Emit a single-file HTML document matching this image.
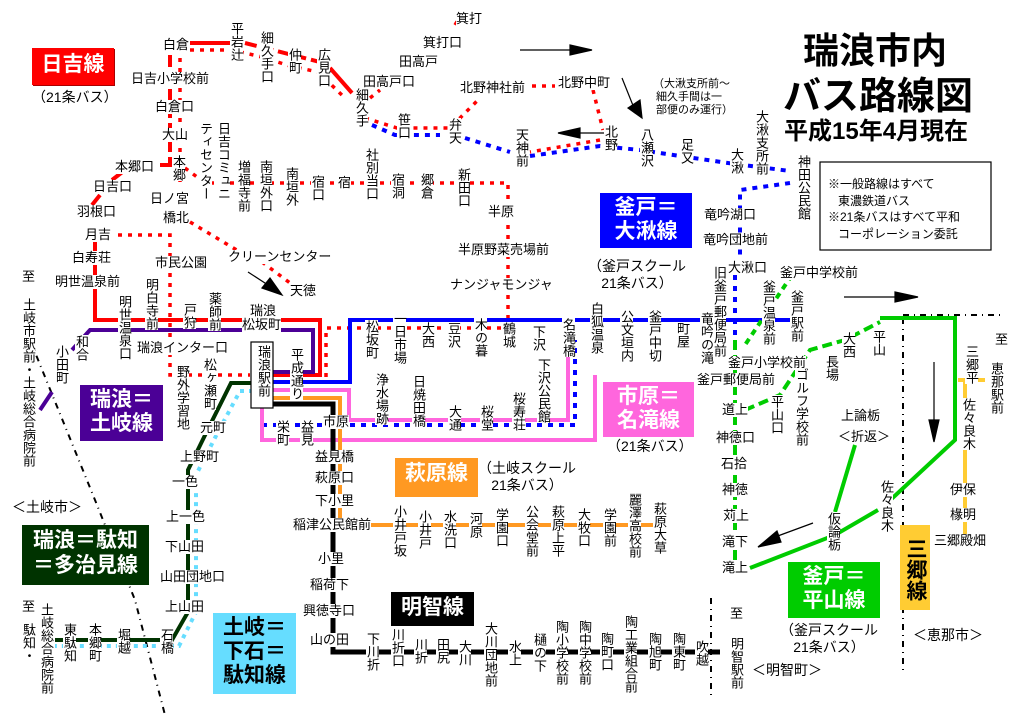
<!DOCTYPE html>
<html><head><meta charset="utf-8">
<style>
body{margin:0;background:#fff;}
#c{position:relative;width:1024px;height:723px;overflow:hidden;background:#fff;font-family:"Liberation Sans","Noto Sans CJK JP",sans-serif;color:#000;}
svg{position:absolute;left:0;top:0;}
.t{position:absolute;font-size:13px;line-height:14px;white-space:nowrap;background:#fff;}
.v{writing-mode:vertical-rl;text-orientation:upright;line-height:13px;}
.box{position:absolute;color:#fff;font-weight:bold;font-size:21px;line-height:25px;text-align:center;box-sizing:border-box;padding-top:3px;}
</style></head><body><div id="c">
<svg width="1024" height="723" viewBox="0 0 1024 723" fill="none">
<g stroke="#000" stroke-width="2" stroke-dasharray="6,5,1,5">
<path d="M30,340 L95,500 L135,600 L165,715"/>
<path d="M903,318 V672 M903,315 H1005 M711,598 V700"/>
</g>
<g stroke="#f00" stroke-width="4">
<path d="M190,43 H230"/>
<path d="M245,43 L320,62" stroke-dasharray="12,5"/>
<path d="M330,68 L352,93"/>
<path d="M170,55 V165" stroke-dasharray="12,5"/>
<path d="M160,165 H172 M125,170 L112,180 M100,195 L92,205"/>
<path d="M95,235 V320 H320 V375 H273"/>
</g>
<g stroke="#f00" stroke-width="3.5" stroke-dasharray="4,6">
<path d="M190,50 H232 L262,57 L290,66 L318,72 L345,98"/>
<path d="M180,58 V182"/>
<path d="M185,168 L205,183 H508 V328 H326 V378"/>
<path d="M118,235 H170 V375 H250"/>
<path d="M190,222 L240,252 M262,262 L290,283"/>
<path d="M365,118 L397,128 H450 L478,100 M532,86 H555 M593,90 L603,130 M600,140 L530,152 M370,98 L380,90 M455,25 L458,20"/>
</g>
<g stroke="#00f" stroke-width="4" stroke-dasharray="5,6">
<path d="M372,125 L395,135 H440 M465,138 L510,152"/>
<path d="M530,156 L600,146 L640,150 L680,156 L735,164 L790,171"/>
<path d="M790,183 L740,190 V258 M735,275 V335"/>
<path d="M262,425 H575 V340"/>
</g>
<path d="M273,382 H350 V320 H795" stroke="#00f" stroke-width="4"/>
<path d="M40,410 L52,392 M72,350 L90,330 H313 V372 H273" stroke="#4b0096" stroke-width="4"/>
<path d="M262,392 V440 H595 V375 M273,390 H349 V420 H568 V345" stroke="#ff66dd" stroke-width="4"/>
<path d="M273,398 H340 V525 H665" stroke="#ff9922" stroke-width="4"/>
<path d="M273,404 H333 V652 H720" stroke="#000" stroke-width="5"/>
<path d="M253,383 H231 L210,425 L188,470 V612 L172,640 H55" stroke="#003300" stroke-width="4"/>
<path d="M253,391 H240 L218,432 L196,475 V612 L179,646 H55" stroke="#66ddff" stroke-width="4" stroke-dasharray="4,5"/>
<g stroke="#00cc00" stroke-width="4">
<path d="M735,340 V570" stroke-dasharray="10,5"/>
<path d="M792,275 L745,345" stroke-dasharray="6,5"/>
<path d="M745,410 L780,395 L810,350 L845,340 L880,322" stroke-dasharray="10,5"/>
<path d="M880,318 H955 V440 L885,505"/>
<path d="M750,568 L835,535 L878,510 M835,512 L855,445"/>
</g>
<path d="M965,380 V540 M958,380 H985" stroke="#ffcc33" stroke-width="4"/>
<g stroke="#000" stroke-width="1.2" fill="#000">
<path d="M520,50 H570"/><polygon points="570,45 592,50 570,55"/>
<path d="M580,133 H610"/><polygon points="580,128 558,133 580,138"/>
<path d="M622,78 L634,108"/><polygon points="628,108 642,118 640,100"/>
<path d="M844,297 H895"/><polygon points="895,292 918,297 895,302"/>
<path d="M934,362 V420"/><polygon points="929,420 934,442 939,420"/>
<path d="M813,523 L775,537"/><polygon points="777,531 758,547 781,542"/>
<path d="M248,272 L268,285"/><polygon points="262,288 282,295 270,278"/>
</g>
<rect x="251" y="342" width="22" height="66" fill="#fff" stroke="#000" stroke-width="1.2"/>
<rect x="820" y="162" width="171" height="88" fill="#fff" stroke="#000" stroke-width="1.2"/>
</svg>

<div class="box" style="left:32px;top:48px;width:82px;height:37px;background:#f00;border:1px solid #f00;box-shadow:1px 1px 0 #a00;">日吉線</div>
<div class="box" style="left:600px;top:193px;width:92px;height:55px;background:#00f;line-height:24px;">釜戸＝<br>大湫線</div>
<div class="box" style="left:80px;top:385px;width:83px;height:56px;background:#4b0096;line-height:24px;">瑞浪＝<br>土岐線</div>
<div class="box" style="left:603px;top:382px;width:91px;height:55px;background:#ff66dd;line-height:24px;">市原＝<br>名滝線</div>
<div class="box" style="left:395px;top:458px;width:83px;height:39px;background:#ff9922;">萩原線</div>
<div class="box" style="left:22px;top:525px;width:127px;height:60px;background:#003300;line-height:25px;">瑞浪＝駄知<br>＝多治見線</div>
<div class="box" style="left:391px;top:592px;width:83px;height:34px;background:#000;">明智線</div>
<div class="box" style="left:213px;top:613px;width:83px;height:81px;background:#66ddff;color:#000;line-height:24px;">土岐＝<br>下石＝<br>駄知線</div>
<div class="box" style="left:788px;top:562px;width:92px;height:56px;background:#00cc00;line-height:24px;">釜戸＝<br>平山線</div>
<div class="box" style="left:900px;top:525px;width:30px;height:85px;background:#ffcc33;color:#000;writing-mode:vertical-rl;text-orientation:upright;padding:3px 0 0 0;line-height:30px;">三郷線</div>

<div class="t" style="left:803px;top:30px;font-size:36px;line-height:42px;font-weight:bold;background:none;">瑞浪市内</div>
<div class="t" style="left:783px;top:75px;font-size:38px;line-height:44px;font-weight:bold;background:none;">バス路線図</div>
<div class="t" style="left:784px;top:118px;font-size:24px;line-height:28px;font-weight:bold;background:none;">平成15年4月現在</div>
<div class="t" style="left:828px;top:176px;font-size:12px;line-height:16.5px;background:none;">※一般路線はすべて<br>&nbsp;&nbsp;&nbsp;東濃鉄道バス<br>※21条バスはすべて平和<br>&nbsp;&nbsp;&nbsp;コーポレーション委託</div>
<div class="t" style="left:653px;top:78px;font-size:11px;line-height:13px;background:none;">（大湫支所前～<br>&nbsp;細久手間は一<br>&nbsp;部便のみ運行）</div>

<div class="t" style="left:32px;top:90px;font-size:14px;">（21条バス）</div>
<div class="t" style="left:588px;top:258px;font-size:14px;line-height:17px;text-align:center;">（釜戸スクール<br>21条バス）</div>
<div class="t" style="left:607px;top:439px;font-size:14px;">（21条バス）</div>
<div class="t" style="left:478px;top:460px;font-size:14px;line-height:17px;text-align:center;">（土岐スクール<br>21条バス）</div>
<div class="t" style="left:780px;top:622px;font-size:14px;line-height:17px;text-align:center;">（釜戸スクール<br>21条バス）</div>
<div class="t" style="left:12px;top:500px;font-size:14px;">＜土岐市＞</div>
<div class="t" style="left:752px;top:663px;font-size:14px;">＜明智町＞</div>
<div class="t" style="left:913px;top:628px;font-size:14px;">＜恵那市＞</div>

<div class="t" style="left:163px;top:38px;">白倉</div>
<div class="t" style="left:456px;top:12px;">箕打</div>
<div class="t" style="left:423px;top:36px;">箕打口</div>
<div class="t" style="left:399px;top:55px;">田高戸</div>
<div class="t" style="left:363px;top:75px;">田高戸口</div>
<div class="t" style="left:460px;top:81px;">北野神社前</div>
<div class="t" style="left:558px;top:76px;">北野中町</div>
<div class="t" style="left:131px;top:72px;">日吉小学校前</div>
<div class="t" style="left:155px;top:100px;">白倉口</div>
<div class="t" style="left:162px;top:128px;">大山</div>
<div class="t" style="left:115px;top:160px;">本郷口</div>
<div class="t" style="left:93px;top:180px;">日吉口</div>
<div class="t" style="left:77px;top:205px;">羽根口</div>
<div class="t" style="left:150px;top:192px;">日ノ宮</div>
<div class="t" style="left:163px;top:211px;">橋北</div>
<div class="t" style="left:338px;top:176px;">宿</div>
<div class="t" style="left:488px;top:205px;">半原</div>
<div class="t" style="left:85px;top:228px;">月吉</div>
<div class="t" style="left:72px;top:251px;">白寿荘</div>
<div class="t" style="left:155px;top:256px;">市民公園</div>
<div class="t" style="left:228px;top:250px;">クリーンセンター</div>
<div class="t" style="left:290px;top:284px;">天徳</div>
<div class="t" style="left:458px;top:243px;">半原野菜売場前</div>
<div class="t" style="left:450px;top:278px;">ナンジャモンジャ</div>
<div class="t" style="left:55px;top:275px;">明世温泉前</div>
<div class="t" style="left:250px;top:304px;">瑞浪</div>
<div class="t" style="left:242px;top:318px;">松坂町</div>
<div class="t" style="left:137px;top:341px;">瑞浪インター口</div>
<div class="t" style="left:704px;top:208px;">竜吟湖口</div>
<div class="t" style="left:703px;top:233px;">竜吟団地前</div>
<div class="t" style="left:728px;top:261px;">大湫口</div>
<div class="t" style="left:780px;top:266px;">釜戸中学校前</div>
<div class="t" style="left:728px;top:356px;">釜戸小学校前</div>
<div class="t" style="left:697px;top:373px;">釜戸郵便局前</div>
<div class="t" style="left:200px;top:421px;">元町</div>
<div class="t" style="left:180px;top:450px;">上野町</div>
<div class="t" style="left:172px;top:475px;">一色</div>
<div class="t" style="left:166px;top:510px;">上一色</div>
<div class="t" style="left:165px;top:540px;">下山田</div>
<div class="t" style="left:160px;top:570px;">山田団地口</div>
<div class="t" style="left:165px;top:600px;">上山田</div>
<div class="t" style="left:323px;top:415px;">市原</div>
<div class="t" style="left:315px;top:450px;">益見橋</div>
<div class="t" style="left:315px;top:471px;">萩原口</div>
<div class="t" style="left:315px;top:494px;">下小里</div>
<div class="t" style="left:293px;top:518px;">稲津公民館前</div>
<div class="t" style="left:318px;top:552px;">小里</div>
<div class="t" style="left:310px;top:578px;">稲荷下</div>
<div class="t" style="left:303px;top:604px;">興徳寺口</div>
<div class="t" style="left:310px;top:633px;">山の田</div>
<div class="t" style="left:722px;top:403px;">道上</div>
<div class="t" style="left:716px;top:431px;">神徳口</div>
<div class="t" style="left:721px;top:457px;">石拾</div>
<div class="t" style="left:722px;top:483px;">神徳</div>
<div class="t" style="left:723px;top:509px;">苅上</div>
<div class="t" style="left:722px;top:535px;">滝下</div>
<div class="t" style="left:722px;top:561px;">滝上</div>
<div class="t" style="left:841px;top:409px;">上論栃</div>
<div class="t" style="left:838px;top:430px;">＜折返＞</div>
<div class="t" style="left:950px;top:483px;">伊保</div>
<div class="t" style="left:950px;top:508px;">椽明</div>
<div class="t" style="left:934px;top:534px;">三郷殿畑</div>
<div class="t" style="left:22px;top:270px;">至</div>
<div class="t" style="left:22px;top:600px;">至</div>
<div class="t" style="left:730px;top:607px;">至</div>
<div class="t" style="left:995px;top:333px;">至</div>

<div class="t v" style="left:230px;top:22px;">平岩辻</div>
<div class="t v" style="left:260px;top:31px;">細久手口</div>
<div class="t v" style="left:288px;top:48px;">仲町</div>
<div class="t v" style="left:317px;top:48px;">広見口</div>
<div class="t v" style="left:355px;top:88px;">細久手</div>
<div class="t v" style="left:397px;top:113px;">笹口</div>
<div class="t v" style="left:448px;top:118px;">弁天</div>
<div class="t v" style="left:515px;top:128px;">天神前</div>
<div class="t v" style="left:604px;top:125px;">北野</div>
<div class="t v" style="left:640px;top:128px;">八瀬沢</div>
<div class="t v" style="left:680px;top:138px;">足又</div>
<div class="t v" style="left:730px;top:148px;">大湫</div>
<div class="t v" style="left:755px;top:110px;">大湫支所前</div>
<div class="t v" style="left:797px;top:155px;">神田公民館</div>
<div class="t v" style="left:199px;top:122px;">ティセンター</div>
<div class="t v" style="left:217px;top:122px;">日吉コミュニ</div>
<div class="t v" style="left:172px;top:155px;">本郷</div>
<div class="t v" style="left:237px;top:160px;">増福寺前</div>
<div class="t v" style="left:259px;top:160px;">南垣外口</div>
<div class="t v" style="left:285px;top:167px;">南垣外</div>
<div class="t v" style="left:311px;top:175px;">宿口</div>
<div class="t v" style="left:365px;top:148px;">社別当口</div>
<div class="t v" style="left:391px;top:173px;">宿洞</div>
<div class="t v" style="left:420px;top:173px;">郷倉</div>
<div class="t v" style="left:457px;top:168px;">新田口</div>
<div class="t v" style="left:145px;top:278px;">明白寺前</div>
<div class="t v" style="left:118px;top:295px;">明世温泉口</div>
<div class="t v" style="left:183px;top:303px;">戸狩</div>
<div class="t v" style="left:208px;top:292px;">薬師前</div>
<div class="t v" style="left:75px;top:335px;">和合</div>
<div class="t v" style="left:55px;top:345px;">小田町</div>
<div class="t v" style="left:22px;top:298px;">土岐市駅前・土岐総合病院前</div>
<div class="t v" style="left:365px;top:320px;">松坂町</div>
<div class="t v" style="left:393px;top:312px;">一日市場</div>
<div class="t v" style="left:421px;top:322px;">大西</div>
<div class="t v" style="left:447px;top:322px;">豆沢</div>
<div class="t v" style="left:474px;top:318px;">木の暮</div>
<div class="t v" style="left:502px;top:322px;">鶴城</div>
<div class="t v" style="left:532px;top:325px;">下沢</div>
<div class="t v" style="left:562px;top:318px;">名滝橋</div>
<div class="t v" style="left:590px;top:302px;">白狐温泉</div>
<div class="t v" style="left:620px;top:310px;">公文垣内</div>
<div class="t v" style="left:648px;top:310px;">釜戸中切</div>
<div class="t v" style="left:676px;top:322px;">町屋</div>
<div class="t v" style="left:700px;top:312px;">竜吟の滝</div>
<div class="t v" style="left:713px;top:266px;">旧釜戸郵便局前</div>
<div class="t v" style="left:762px;top:280px;">釜戸温泉前</div>
<div class="t v" style="left:790px;top:290px;">釜戸駅前</div>
<div class="t v" style="left:825px;top:355px;">長場</div>
<div class="t v" style="left:842px;top:332px;">大西</div>
<div class="t v" style="left:872px;top:330px;">平山</div>
<div class="t v" style="left:990px;top:362px;">恵那駅前</div>
<div class="t v" style="left:965px;top:345px;">三郷平</div>
<div class="t v" style="left:962px;top:398px;">佐々良木</div>
<div class="t v" style="left:770px;top:395px;">平山口</div>
<div class="t v" style="left:795px;top:368px;">ゴルフ学校前</div>
<div class="t v" style="left:827px;top:512px;">仮論栃</div>
<div class="t v" style="left:880px;top:480px;">佐々良木</div>
<div class="t v" style="left:257px;top:345px;background:none;">瑞浪駅前</div>
<div class="t v" style="left:290px;top:348px;">平成通り</div>
<div class="t v" style="left:176px;top:365px;">野外学習地</div>
<div class="t v" style="left:203px;top:358px;">松ヶ瀬町</div>
<div class="t v" style="left:276px;top:420px;">栄町</div>
<div class="t v" style="left:300px;top:420px;">益見</div>
<div class="t v" style="left:375px;top:373px;">浄水場跡</div>
<div class="t v" style="left:412px;top:375px;">日焼田橋</div>
<div class="t v" style="left:448px;top:405px;">大通</div>
<div class="t v" style="left:480px;top:405px;">桜堂</div>
<div class="t v" style="left:512px;top:392px;">桜寿荘</div>
<div class="t v" style="left:537px;top:358px;">下沢公民館</div>
<div class="t v" style="left:393px;top:505px;">小井戸坂</div>
<div class="t v" style="left:418px;top:510px;">小井戸</div>
<div class="t v" style="left:443px;top:510px;">水洗口</div>
<div class="t v" style="left:469px;top:512px;">河原</div>
<div class="t v" style="left:495px;top:508px;">学園口</div>
<div class="t v" style="left:525px;top:505px;">公会堂前</div>
<div class="t v" style="left:551px;top:505px;">萩原上平</div>
<div class="t v" style="left:577px;top:508px;">大牧口</div>
<div class="t v" style="left:603px;top:508px;">学園前</div>
<div class="t v" style="left:628px;top:493px;">麗澤高校前</div>
<div class="t v" style="left:653px;top:502px;">萩原大草</div>
<div class="t v" style="left:366px;top:632px;">下川折</div>
<div class="t v" style="left:391px;top:628px;">川折口</div>
<div class="t v" style="left:414px;top:638px;">川折</div>
<div class="t v" style="left:436px;top:638px;">田尻</div>
<div class="t v" style="left:458px;top:640px;">大川</div>
<div class="t v" style="left:484px;top:622px;">大川団地前</div>
<div class="t v" style="left:508px;top:640px;">水上</div>
<div class="t v" style="left:533px;top:633px;">樋の下</div>
<div class="t v" style="left:555px;top:620px;">陶小学校前</div>
<div class="t v" style="left:578px;top:620px;">陶中学校前</div>
<div class="t v" style="left:600px;top:632px;">陶町口</div>
<div class="t v" style="left:624px;top:615px;">陶工業組合前</div>
<div class="t v" style="left:648px;top:632px;">陶旭町</div>
<div class="t v" style="left:672px;top:632px;">陶東町</div>
<div class="t v" style="left:695px;top:640px;">吹越</div>
<div class="t v" style="left:730px;top:637px;">明智駅前</div>
<div class="t v" style="left:160px;top:628px;">石橋</div>
<div class="t v" style="left:117px;top:628px;">堀越</div>
<div class="t v" style="left:88px;top:623px;">本郷町</div>
<div class="t v" style="left:63px;top:623px;">東駄知</div>
<div class="t v" style="left:40px;top:603px;">土岐総合病院前</div>
<div class="t v" style="left:22px;top:623px;">駄知・</div>
</div></body></html>
